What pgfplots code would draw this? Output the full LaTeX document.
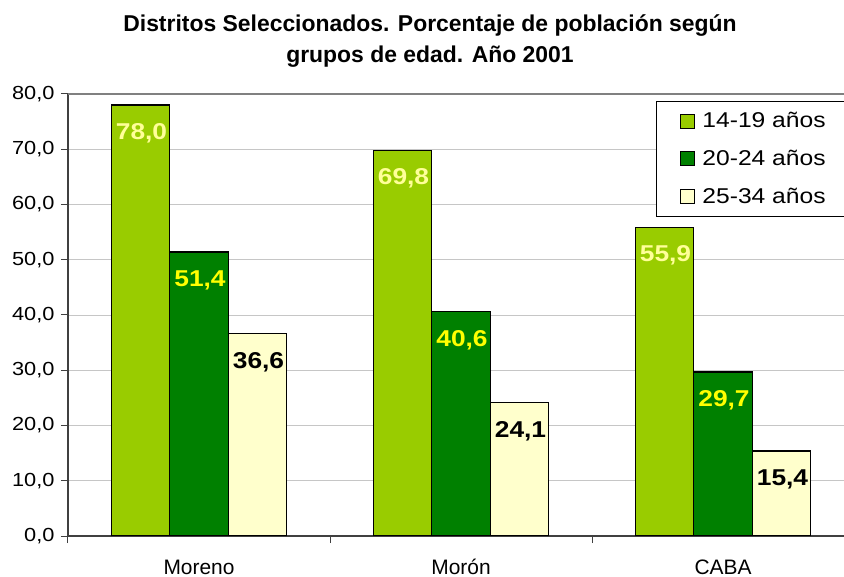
\documentclass[border=0pt]{standalone}
\usepackage{fontspec}
\setmainfont{Liberation Sans}
\newfontfamily\wide[FakeStretch=1.15]{Liberation Sans}
\usepackage{pgfplots}
\pgfplotsset{compat=1.18}
\definecolor{lgreen}{HTML}{99CC00}
\definecolor{dgreen}{HTML}{008000}
\definecolor{cream}{HTML}{FFFFCC}
\definecolor{paley}{HTML}{FFFF99}
\definecolor{brighty}{HTML}{FFFF00}
\begin{document}
\begin{tikzpicture}
\begin{axis}[
  at={(0,0)}, anchor=south west,
  scale only axis, width=786bp, height=442bp,
  xmin=-0.5, xmax=2.5, ymin=0, ymax=80,
  ybar=0pt, bar width=58.5bp,
  axis lines=left,
  axis line style={-, black!75, line width=1.2bp},
  xtick={-0.5,0.5,1.5,2.5}, xticklabels={},
  extra x ticks={0,1,2},
  extra x tick labels={Moreno,Morón,CABA},
  extra x tick style={major tick length=0pt, grid=none,
     tick label style={font=\fontsize{21}{24}\selectfont, anchor=base, yshift=-38bp}},
  ytick={0,10,...,80},
  major tick length=7bp, tick align=outside,
  tick style={black!75, line width=1bp},
  ymajorgrids, xmajorgrids=false,
  grid style={gray!45, line width=0.8bp},
  yticklabel style={font=\wide\fontsize{19}{24}\selectfont, xshift=-3bp,
     /pgf/number format/.cd, fixed, fixed zerofill, precision=1, use comma, assume math mode=true},
  nodes near coords={\pgfmathprintnumber[fixed,fixed zerofill,precision=1,use comma,assume math mode=true]{\pgfplotspointmeta}},
  every node near coord/.append style={anchor=north, inner sep=0pt, yshift=-18bp, xshift=1bp,
     font=\wide\bfseries\fontsize{23}{26}\selectfont},
  legend style={at={(0.748,0.984)}, anchor=north west, draw=black, line width=1bp,
     font=\wide\fontsize{21.5}{25}\selectfont, row sep=17bp, inner xsep=6bp, inner ysep=9bp},
  legend cell align=left,
  legend image code/.code={\path[draw=none, fill=none] (0bp,-7bp) rectangle (14bp,7bp);
     \draw[#1, line width=0.8bp] (18bp,-7bp) rectangle (32bp,7bp);
     \path[draw=none, fill=none] (32bp,0bp) -- (38bp,0bp);},
  after end axis/.code={\draw[gray, line width=2bp] (rel axis cs:0,1) -- (rel axis cs:1,1);},
]
\addplot[fill=lgreen, draw=black, line width=1.2bp,
  every node near coord/.append style={text=paley}]
  coordinates {(0,78.0) (1,69.8) (2,55.9)};
\addplot[fill=dgreen, draw=black, line width=1.2bp,
  every node near coord/.append style={text=brighty}]
  coordinates {(0,51.4) (1,40.6) (2,29.7)};
\addplot[fill=cream, draw=black, line width=1.2bp,
  every node near coord/.append style={text=black}]
  coordinates {(0,36.6) (1,24.1) (2,15.4)};
\legend{14-19 años\rule{20bp}{0pt},20-24 años\rule{20bp}{0pt},25-34 años\rule{20bp}{0pt}}
\end{axis}
\node[align=center, font=\bfseries\fontsize{23}{32}\selectfont] at (362bp,495bp)
  {Distritos Seleccionados. Porcentaje de población según\\grupos de edad. Año 2001};
\pgfresetboundingbox
\path (-68bp,-41bp) rectangle (776bp,536bp);
\end{tikzpicture}
\end{document}
